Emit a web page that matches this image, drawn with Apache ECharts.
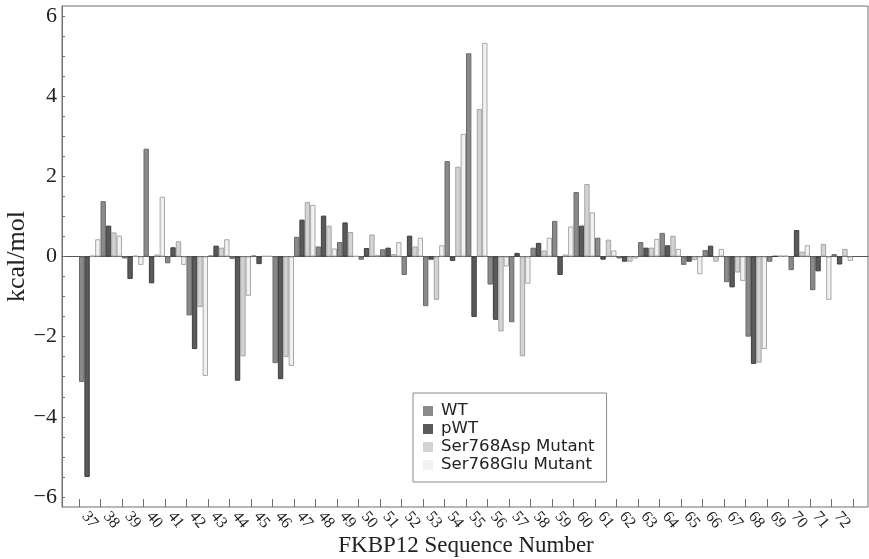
<!DOCTYPE html>
<html>
<head>
<meta charset="utf-8">
<script src="https://cdn.jsdelivr.net/npm/echarts@6/dist/echarts.min.js"></script>
<style>
html,body{margin:0;padding:0;background:#fff;}
#chart{width:869px;height:559px;}
</style>
</head>
<body>
<div id="chart"></div>
<script>
const categories = ["37","38","39","40","41","42","43","44","45","46","47","48","49","50","51","52","53","54","55","56","57","58","59","60","61","62","63","64","65","66","67","68","69","70","71","72"];
const seriesNames = ["WT","pWT","Ser768Asp Mutant","Ser768Glu Mutant"];
const wt   = [-3.13,1.38,-0.05,2.69,-0.17,-1.47,0.02,-0.06,0.02,-2.66,0.49,0.25,0.36,-0.08,0.18,-0.46,-1.24,2.38,5.07,-0.70,-1.64,0.22,0.89,1.61,0.47,-0.05,0.36,0.59,-0.21,0.16,-0.64,-2.00,-0.13,-0.34,-0.84,0.06];
const pwt  = [-5.50,0.77,-0.56,-0.67,0.23,-2.31,0.27,-3.10,-0.19,-3.06,0.92,1.02,0.85,0.21,0.22,0.52,-0.08,-0.11,-1.51,-1.58,0.09,0.34,-0.46,0.77,-0.08,-0.13,0.22,0.28,-0.13,0.27,-0.77,-2.68,0.01,0.66,-0.37,-0.20];
const asp  = [0.02,0.60,0.02,0.05,0.38,-1.26,0.22,-2.49,0.01,-2.51,1.36,0.77,0.61,0.55,0.06,0.25,-1.08,2.24,3.68,-1.87,-2.49,0.15,0.05,1.81,0.42,-0.13,0.22,0.52,-0.09,-0.13,-0.40,-2.65,0.02,0.12,0.31,0.19];
const glu  = [0.43,0.52,-0.21,1.49,-0.21,-2.98,0.43,-0.98,0.01,-2.73,1.29,0.20,0.01,0.04,0.36,0.47,0.28,3.06,5.33,-0.25,-0.68,0.47,0.75,1.10,0.15,-0.05,0.44,0.19,-0.44,0.19,-0.61,-2.31,0.02,0.28,-1.08,-0.11];
const yLabelValues = [-6,-4,-2,0,2,4,6];
const yTickValues = [-6,-5.5,-5,-4.5,-4,-3.5,-3,-2.5,-2,-1.5,-1,-0.5,0,0.5,1,1.5,2,2.5,3,3.5,4,4.5,5,5.5,6];

const fills = ['#8a8a8a','#5a5a5a','#d3d3d3','#f1f1f1'];
const borders = ['#6a6a6a','#3e3e3e','#a4a4a4','#a8a8a8'];
const values = [wt,pwt,asp,glu];
const Y_MIN = -6.25, Y_MAX = 6.25;
const serif = 'Liberation Serif';

const chart = echarts.init(document.getElementById('chart'), null, {renderer:'canvas'});
chart.setOption({
  animation:false,
  backgroundColor:'#fff',
  grid:[
    {left:79, right:16, top:6, bottom:52, outerBoundsMode:'none', containLabel:false},
    {left:62, right:1, top:6, bottom:52, outerBoundsMode:'none', containLabel:false, show:true, borderColor:'#707070', borderWidth:1, backgroundColor:'transparent'}
  ],
  legend:{
    data:seriesNames,
    orient:'vertical',
    left:413, top:393,
    padding:[9,12,8,10],
    itemGap:0,
    itemWidth:10, itemHeight:10,
    icon:'rect',
    borderColor:'#8a8a8a', borderWidth:1,
    backgroundColor:'#fff',
    itemStyle:{borderWidth:0},
    textStyle:{fontFamily:'DejaVu Sans', fontSize:16.6, color:'#222', lineHeight:18, padding:[0,0,0,3]}
  },
  xAxis:[
    {
      type:'category', gridIndex:0, data:categories,
      position:'bottom',
      axisLine:{show:false, onZero:false},
      axisTick:{show:true, inside:true, length:8, lineStyle:{color:'#707070'}},
      axisLabel:{rotate:-50, align:'center', verticalAlign:'middle', margin:13, fontFamily:serif, fontSize:16, color:'#222', interval:0},
      splitLine:{show:false},
      name:'FKBP12 Sequence Number', nameLocation:'middle', nameGap:27, nameMoveOverlap:false,
      nameTextStyle:{fontFamily:serif, fontSize:23, color:'#222'}
    },
    {
      type:'value', gridIndex:1, min:0, max:1,
      axisLine:{show:true, onZero:true, lineStyle:{color:'#555', width:1}},
      axisTick:{show:false}, axisLabel:{show:false}, splitLine:{show:false}
    }
  ],
  yAxis:[
    {type:'value', gridIndex:0, min:Y_MIN, max:Y_MAX, show:false, splitLine:{show:false}},
    {
      type:'value', gridIndex:1, min:Y_MIN, max:Y_MAX,
      axisLine:{show:true, onZero:false, lineStyle:{color:'#707070'}},
      axisTick:{show:true, inside:true, length:3, customValues:yTickValues, lineStyle:{color:'#707070'}},
      axisLabel:{customValues:yLabelValues, margin:5, fontFamily:serif, fontSize:22, color:'#222',
        formatter:v => (v<0 ? '\u2212'+Math.abs(v) : String(v))},
      splitLine:{show:false},
      name:'kcal/mol', nameLocation:'middle', nameGap:32, nameMoveOverlap:false,
      nameTextStyle:{fontFamily:serif, fontSize:26, color:'#222'}
    }
  ],
  series: seriesNames.map((n,i)=>({
    name:n, type:'bar', xAxisIndex:0, yAxisIndex:0,
    data:values[i],
    barGap:'0%', barCategoryGap:'0%',
    itemStyle:{color:fills[i], borderColor:borders[i], borderWidth:1},
    emphasis:{disabled:true}
  }))
});
</script>
</body>
</html>
